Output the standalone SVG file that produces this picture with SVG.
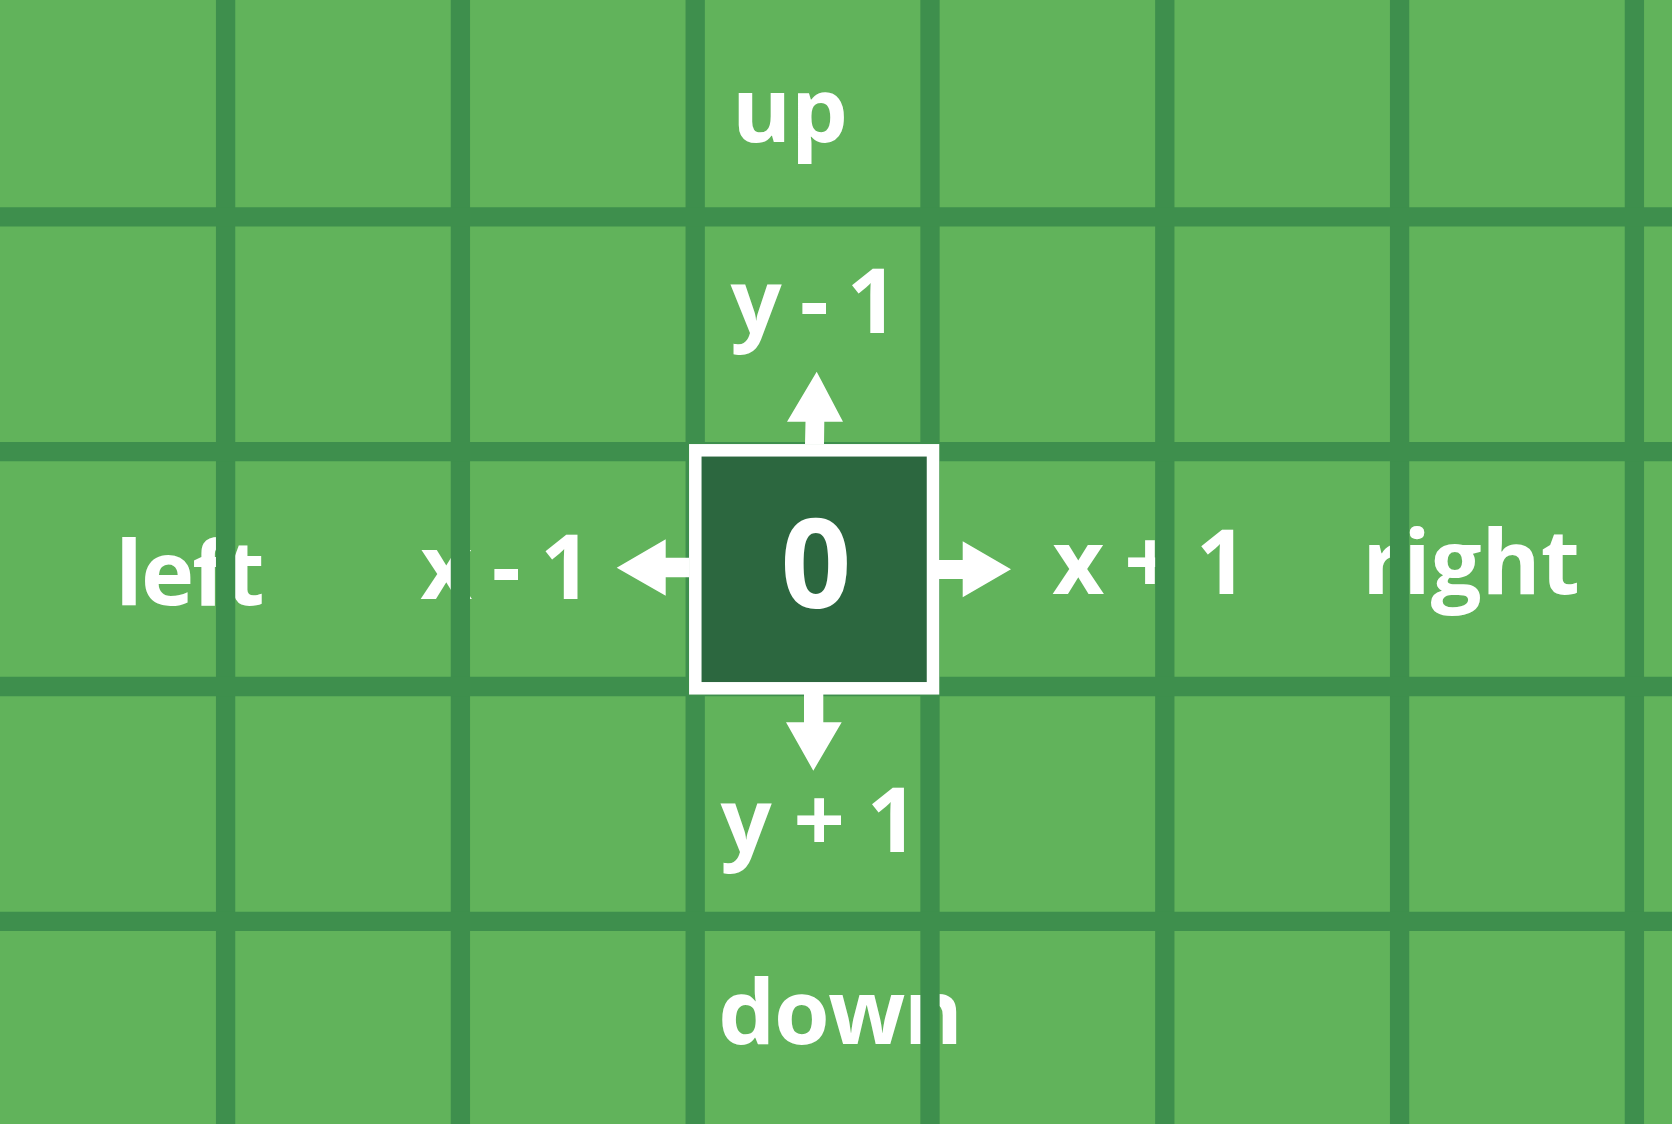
<svg xmlns="http://www.w3.org/2000/svg" width="1672" height="1124" viewBox="0 0 1672 1124">
<style>
.lbl{font-family:"Open Sans","Noto Sans","Liberation Sans",sans-serif;font-weight:700;font-size:90px;fill:#ffffff;text-anchor:middle}
.big{font-size:124px}
.gl{stroke:#3e8f4d;stroke-width:19.3}
.arr{fill:#ffffff}
</style>
<rect id="bg" x="0" y="0" width="1672" height="1124" fill="#61b35b"/>
<g id="labels">
<text id="up" class="lbl" x="790" y="142">up</text>
<text id="ym1" class="lbl" x="813" y="333" letter-spacing="-2.7">y - 1</text>
<text id="yp1" class="lbl" x="819" y="852" letter-spacing="-0.8">y + 1</text>
<text id="down" class="lbl" x="840" y="1044" letter-spacing="-1.4">down</text>
<text id="left" class="lbl" x="189" y="605" letter-spacing="-1.8">left</text>
<text id="xm1" class="lbl" x="505" y="599" letter-spacing="-1.9">x - 1</text>
<text id="xp1" class="lbl" x="1149" y="594" letter-spacing="-1.6">x + 1</text>
<text id="right" class="lbl" x="1471" y="594">right</text>
</g>
<g id="grid">
<line class="gl" x1="225.6" y1="0" x2="225.6" y2="1124"/>
<line class="gl" x1="460.4" y1="0" x2="460.4" y2="1124"/>
<line class="gl" x1="695.2" y1="0" x2="695.2" y2="1124"/>
<line class="gl" x1="930" y1="0" x2="930" y2="1124"/>
<line class="gl" x1="1164.8" y1="0" x2="1164.8" y2="1124"/>
<line class="gl" x1="1399.6" y1="0" x2="1399.6" y2="1124"/>
<line class="gl" x1="1634.4" y1="0" x2="1634.4" y2="1124"/>
<line class="gl" x1="0" y1="216.9" x2="1672" y2="216.9"/>
<line class="gl" x1="0" y1="451.7" x2="1672" y2="451.7"/>
<line class="gl" x1="0" y1="686.5" x2="1672" y2="686.5"/>
<line class="gl" x1="0" y1="921.3" x2="1672" y2="921.3"/>
</g>
<g id="center">
<rect x="695.3" y="450.3" width="237.7" height="238" fill="#2c673f" stroke="#ffffff" stroke-width="12.5"/>
<text class="lbl big" x="816" y="608">0</text>
</g>
<g id="connectors">
<polygon class="arr" points="805,444 805.5,421.7 787,421.7 816.7,371.7 843,421.7 824.3,421.7 824,444"/>
<polygon class="arr" points="804,694 804,722.3 786,722.3 813.3,770.7 841.7,722.3 823.3,722.3 823.3,694"/>
<polygon class="arr" points="689,557.7 665.7,557.7 665.7,539.3 616.7,567.7 665.7,595.7 665.7,577.3 689,577.3"/>
<polygon class="arr" points="939,560 962.7,560 962.7,541.3 1011,569.3 962.7,597.3 962.7,579 939,579"/>
</g>
</svg>
